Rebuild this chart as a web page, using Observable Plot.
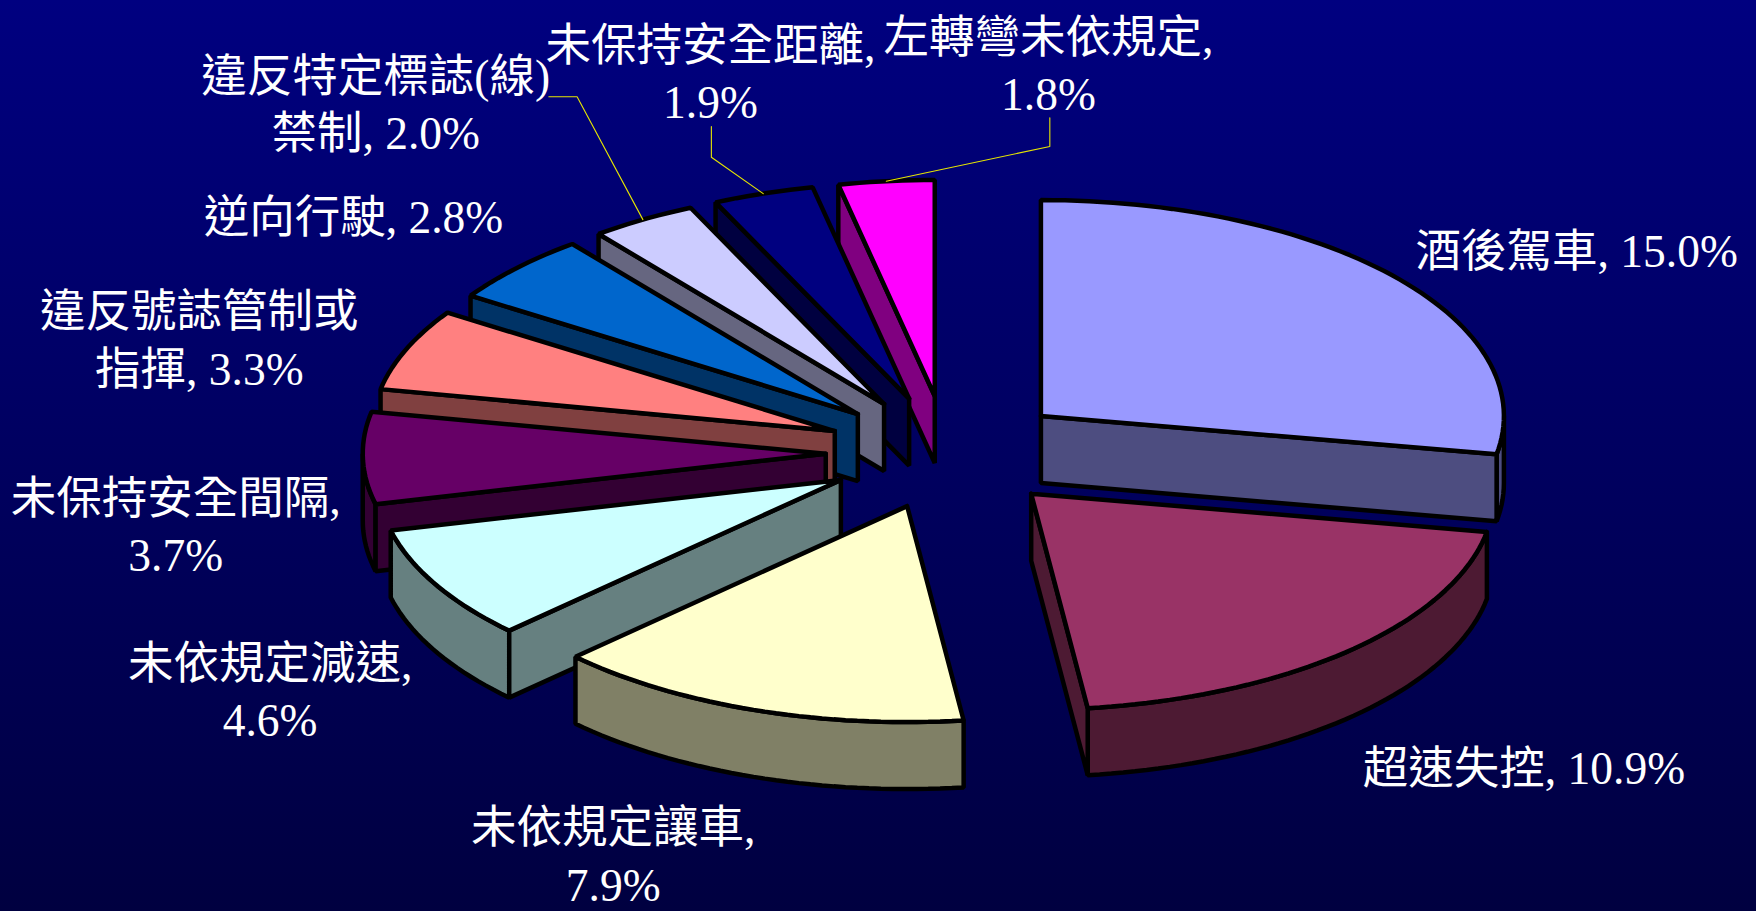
<!DOCTYPE html>
<html lang="zh-Hant">
<head>
<meta charset="utf-8">
<script src="https://cdn.jsdelivr.net/npm/d3@7"></script>
<script src="https://cdn.jsdelivr.net/npm/@observablehq/plot@0.6"></script>
<style>
html,body{margin:0;padding:0;width:1756px;height:911px;overflow:hidden;background:linear-gradient(#000080,#000040);}
svg{display:block;background:transparent !important;}
</style>
</head>
<body>
<div id="chart"></div>
<script>
// Data
const causes = ["酒後駕車","超速失控","未依規定讓車","未依規定減速","未保持安全間隔","違反號誌管制或\n指揮","逆向行駛","違反特定標誌(線)\n禁制","未保持安全距離","左轉彎未依規定"];
const shares = [15.0,10.9,7.9,4.6,3.7,3.3,2.8,2.0,1.9,1.8];
const breakAfterComma = [false,false,true,true,true,false,false,false,true,true];
const topColors = ["#9999FF","#993366","#FFFFCC","#CCFFFF","#660066","#FF8080","#0066CC","#CCCCFF","#000080","#FF00FF"];
const wallColors = ["#4D4D80","#4D1A33","#808066","#668080","#330033","#804040","#003366","#666680","#000040","#800080"];

// Layout, in pie-plane units (1 unit = one radius along each axis)
const W = 1756, H = 911;
const cx = 947, cy = 452, rx = 463, ry = 216;
const explode = 0.263, depth = 67 / ry;
const labelU = [1.359,1.245,-0.722,-1.463,-1.667,-1.616,-1.283,-1.235,-0.512,0.218];
const labelV = [-0.944,1.452,1.857,1.097,0.333,-0.532,-1.103,-1.621,-1.766,-1.803];
const leaders = [
  {i:7, start:[-0.861,-1.647], elbow:[-0.80,-1.647]},
  {i:8, start:[-0.51,-1.509], elbow:[-0.51,-1.367]},
  {i:9, start:[0.221,-1.55], elbow:[0.221,-1.417]}
];

const total = d3.sum(shares);
const rad = d => d * Math.PI / 180;
let acc = 0;
const slices = shares.map((v,i) => {
  const a0 = acc; acc += v / total * 360;
  const a1 = acc, mid = (a0 + a1) / 2;
  return {i, a0, a1, mid, ox: explode * Math.sin(rad(mid)), oy: -explode * Math.cos(rad(mid))};
});
const rim = (s, a, dy = 0) => ({x: s.ox + Math.sin(rad(a)), y: s.oy - Math.cos(rad(a)) + dy});
const arc = (s, a, b, dy = 0) => {
  const n = Math.max(1, Math.ceil((b - a) / 1.5));
  return d3.range(n + 1).map(k => rim(s, a + (b - a) * k / n, dy));
};

// Polygons, painted back to front
const polys = [];
const add = (id, color, pts) => {
  [...pts, pts[0]].forEach(p => polys.push({id, color, x: p.x, y: p.y}));
};
for (const i of [9,8,7,6,5,4,3,2,0,1]) {
  const s = slices[i];
  const apex = {x: s.ox, y: s.oy}, apexLow = {x: s.ox, y: s.oy + depth};
  const sa0 = Math.sin(rad(s.a0)), sa1 = Math.sin(rad(s.a1));
  const lo = Math.max(s.a0, 90), hi = Math.min(s.a1, 270);
  if (hi > lo) add(`${i}-arc`, wallColors[i], [...arc(s, lo, hi), ...arc(s, lo, hi, depth).reverse()]);
  if (sa0 < -1e-6) add(`${i}-start`, wallColors[i], [apex, rim(s, s.a0), rim(s, s.a0, depth), apexLow]);
  if (sa1 > 1e-6) add(`${i}-end`, wallColors[i], [apex, rim(s, s.a1), rim(s, s.a1, depth), apexLow]);
  add(`${i}-top`, topColors[i], [apex, ...arc(s, s.a0, s.a1)]);
}

const leaderPts = leaders.flatMap(l => {
  const end = rim(slices[l.i], slices[l.i].mid);
  return [{id:l.i,x:l.start[0],y:l.start[1]},{id:l.i,x:l.elbow[0],y:l.elbow[1]},{id:l.i,x:end.x,y:end.y}];
});

const labels = causes.map((c,i) => ({
  text: `${c},${breakAfterComma[i] ? "\n" : " "}${shares[i].toFixed(1)}%`,
  u: labelU[i], v: labelV[i]
}));

const chart = Plot.plot({
  width: W, height: H,
  margin: 0,
  style: {background: "transparent"},
  x: {domain: [-cx / rx, (W - cx) / rx], range: [0, W], axis: null},
  y: {domain: [-cy / ry, (H - cy) / ry], range: [0, H], axis: null},
  color: {type: "identity"},
  marks: [
    Plot.line(polys, {x: "x", y: "y", z: "id", fill: "color", stroke: "#000", strokeWidth: 4.5, strokeLinejoin: "miter", curve: "linear"}),
    Plot.line(leaderPts, {x: "x", y: "y", z: "id", stroke: "#E6E600", strokeWidth: 1.1, curve: "linear"}),
    Plot.text(labels, {
      x: "u", y: "v", text: "text", fill: "#fff", fontSize: 45.5, lineHeight: 1.26,
      lineAnchor: "middle", textAnchor: "middle",
      fontFamily: '"Liberation Serif","Noto Sans CJK TC",serif'
    })
  ]
});
document.getElementById("chart").appendChild(chart);
</script>
</body>
</html>
